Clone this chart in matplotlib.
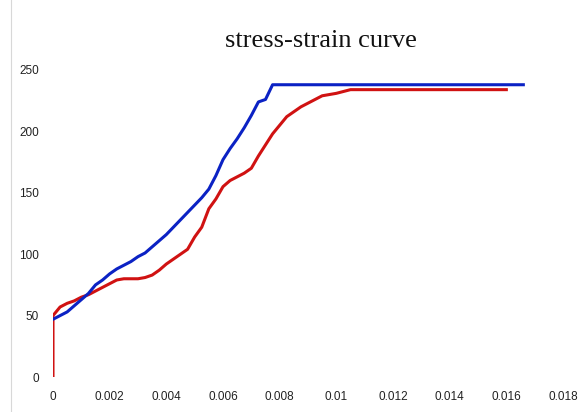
import matplotlib
matplotlib.use("Agg")
import matplotlib.pyplot as plt
from matplotlib.lines import Line2D

# strain values (every 0.00025) and stresses
blue_strain = [0, 0.00025, 0.0005, 0.00075, 0.001, 0.00125, 0.0015, 0.00175, 0.002, 0.00225,
               0.0025, 0.00275, 0.003, 0.00325, 0.0035, 0.00375, 0.004, 0.00425, 0.0045, 0.00475,
               0.005, 0.00525, 0.0055, 0.00575, 0.006, 0.00625, 0.0065, 0.00675, 0.007, 0.00725,
               0.0075, 0.00775, 0.0166]
blue_stress = [47, 50, 53, 58, 63, 68, 75, 79, 84, 88,
               91, 94, 98, 101, 106, 111, 116, 122, 128, 134,
               140, 146, 153, 164, 177, 186, 194, 203, 213, 224,
               226, 238, 238]

red_strain = [0, 0, 0.00025, 0.0005, 0.00075, 0.001, 0.00125, 0.0015, 0.00175, 0.002,
              0.00225, 0.0025, 0.00275, 0.003, 0.00325, 0.0035, 0.00375, 0.004, 0.00425, 0.0045,
              0.00475, 0.005, 0.00525, 0.0055, 0.00575, 0.006, 0.00625, 0.0065, 0.00675, 0.007,
              0.00725, 0.0075, 0.00775, 0.008, 0.00825, 0.0085, 0.00875, 0.009, 0.00925, 0.0095,
              0.00975, 0.01, 0.0105, 0.016]
red_stress = [0, 50, 57, 60, 62, 65, 67, 70, 73, 76,
              79, 80, 80, 80, 81, 83, 87, 92, 96, 100,
              104, 114, 122, 137, 145, 155, 160, 163, 166, 170,
              180, 189, 198, 205, 212, 216, 220, 223, 226, 229,
              230, 231, 234, 234]

x_ticks = [0, 0.002, 0.004, 0.006, 0.008, 0.01, 0.012, 0.014, 0.016, 0.018]
x_labels = ["0", "0.002", "0.004", "0.006", "0.008", "0.01", "0.012", "0.014", "0.016", "0.018"]
y_ticks = [0, 50, 100, 150, 200, 250]
title = "stress-strain curve"

W, H = 581, 412
fig = plt.figure(figsize=(W / 100, H / 100), dpi=100)
ax = fig.add_axes([53 / W, 1 - 377 / H, (563 - 53) / W, (377 - 70) / H])

ax.plot(red_strain, red_stress, color="#d01212", lw=2.2, zorder=2)
ax.plot(blue_strain, blue_stress, color="#0b22c4", lw=2.2, zorder=3)

ax.set_xlim(0, 0.018)
ax.set_ylim(0, 250)
ax.set_xticks(x_ticks)
ax.set_xticklabels(x_labels)
ax.set_yticks(y_ticks)
for s in ax.spines.values():
    s.set_visible(False)
ax.tick_params(length=0, labelsize=8.5, pad=10, colors="#222222")
for lab in ax.get_xticklabels() + ax.get_yticklabels():
    lab.set_family(["Liberation Sans Narrow", "Liberation Sans", "DejaVu Sans"])

fig.text(321 / W, 1 - 41 / H, title, ha="center", va="center",
         fontsize=19, family=["Liberation Serif", "DejaVu Serif"], color="#111111")

fig.add_artist(Line2D([10.5 / W, 10.5 / W], [0, 1], transform=fig.transFigure,
                      color="#d8d8d8", lw=0.8))

fig.savefig("out.png", dpi=100)
